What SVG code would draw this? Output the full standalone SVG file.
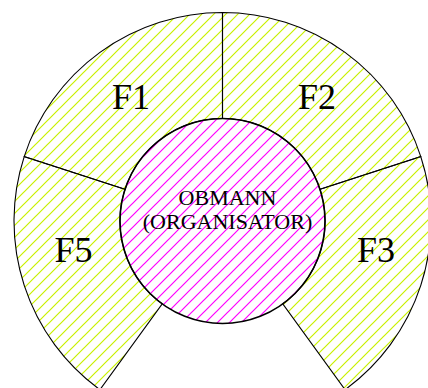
<svg xmlns="http://www.w3.org/2000/svg" width="428" height="388" viewBox="0 0 428 388">
  <defs>
    <pattern id="hy" patternUnits="userSpaceOnUse" width="12" height="12">
      <path d="M-3,3 L3,-3 M0,12 L12,0 M9,15 L15,9" stroke="#c8f000" stroke-width="1.2"/>
    </pattern>
    <pattern id="hm" patternUnits="userSpaceOnUse" width="12" height="12">
      <path d="M-3,3 L3,-3 M0,12 L12,0 M9,15 L15,9" stroke="#ff00ff" stroke-width="1.2"/>
    </pattern>
  </defs>
  <style>
    .sec { fill: url(#hy); stroke: #000; stroke-width: 1.1; stroke-linejoin: miter; }
    .big { font-family: "Liberation Serif", "Times New Roman", serif; font-size: 36px; fill: #000; text-anchor: middle; }
    .mid { font-family: "Liberation Serif", "Times New Roman", serif; font-size: 22px; fill: #000; text-anchor: middle; }
  </style>
  <rect width="428" height="388" fill="#fff"/>
  <g id="F1">
    <path class="sec" d="M222.5,12.5 A208.5,208.5 0 0 0 24.21,156.57 L125.02,189.33 A102.5,102.5 0 0 1 222.5,118.5 Z"/>
    <text class="big" x="131" y="109">F1</text>
  </g>
  <g id="F2">
    <path class="sec" d="M222.5,12.5 A208.5,208.5 0 0 1 420.79,156.57 L319.98,189.33 A102.5,102.5 0 0 0 222.5,118.5 Z"/>
    <text class="big" x="317" y="109">F2</text>
  </g>
  <g id="F3">
    <path class="sec" d="M420.79,156.57 A208.5,208.5 0 0 1 345.05,389.68 L282.75,303.92 A102.5,102.5 0 0 0 319.98,189.33 Z"/>
    <text class="big" x="376" y="261.5">F3</text>
  </g>
  <g id="F5">
    <path class="sec" d="M24.21,156.57 A208.5,208.5 0 0 0 99.95,389.68 L162.25,303.92 A102.5,102.5 0 0 1 125.02,189.33 Z"/>
    <text class="big" x="73.5" y="261.5">F5</text>
  </g>
  <g id="obmann">
    <circle cx="222.5" cy="221" r="102.5" fill="url(#hm)" stroke="#000" stroke-width="1.6"/>
    <text class="mid" x="227.5" y="204.5">OBMANN</text>
    <text class="mid" x="227.5" y="228.5">(ORGANISATOR)</text>
  </g>
  <g id="connectors"></g>
</svg>
